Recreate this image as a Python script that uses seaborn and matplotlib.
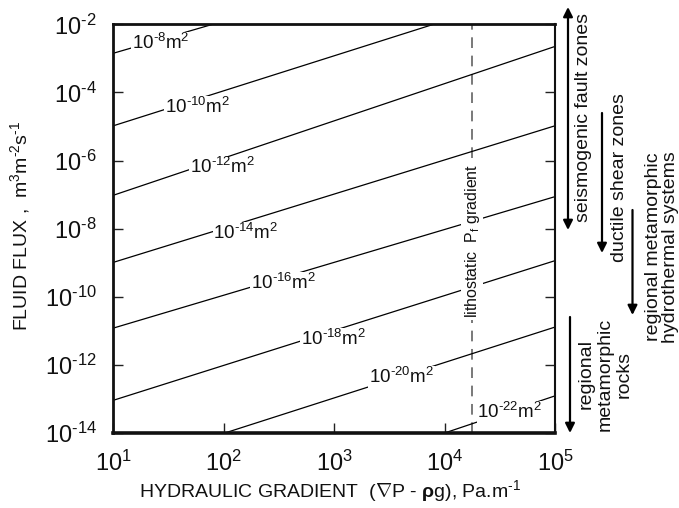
import numpy as np
import pandas as pd
import matplotlib
matplotlib.use("Agg")
import matplotlib.pyplot as plt
import seaborn as sns

# ---------------- data (log10 units) ----------------
perm_exp = [-8, -10, -12, -14, -16, -18, -20, -22]          # permeability exponents (m^2)
line_x0 = [1.0, 1.0, 1.0, 1.0, 1.0, 1.0, 2.01, 4.0]          # log10 gradient, start
line_y0 = [-2.85, -4.98, -7.02, -8.99, -10.92, -13.04, -14.0, -14.0]  # log10 flux, start
line_x1 = [1.9, 3.9, 5.0, 5.0, 5.0, 5.0, 5.0, 5.0]            # log10 gradient, end
line_y1 = [-2.0, -2.0, -2.65, -4.98, -7.06, -8.94, -10.89, -12.91]   # log10 flux, end
label_x = [1.43, 1.76, 1.99, 2.2, 2.54, 2.99, 3.61, 4.59]     # label centres (log10 gradient)
label_y = [-2.55, -4.42, -6.2, -8.12, -9.59, -11.24, -12.35, -13.39]  # label centres (log10 flux)
litho_grad_exp = 4.25                                        # lithostatic Pf gradient (log10)
litho_label_y = -8.37
x_tick_exp = [1, 2, 3, 4, 5]
y_tick_exp = [-2, -4, -6, -8, -10, -12, -14]

rows = []
for e, a, b, c, d in zip(perm_exp, line_x0, line_y0, line_x1, line_y1):
    rows.append({"perm": e, "grad": 10.0 ** a, "flux": 10.0 ** b})
    rows.append({"perm": e, "grad": 10.0 ** c, "flux": 10.0 ** d})
df = pd.DataFrame(rows)

# ---------------- style ----------------
sns.set_style("white")
plt.rcParams.update({
    "font.family": ["Liberation Sans", "DejaVu Sans"],
    "mathtext.fontset": "custom",
    "mathtext.rm": "Liberation Sans",
    "mathtext.it": "Liberation Sans:italic",
    "mathtext.bf": "Liberation Sans:bold",
    "mathtext.sf": "Liberation Sans",
    "text.color": "#111111",
})

HY = "\u2010"  # short hyphen used for the exponents in the original


def pow10(e):
    s = str(e).replace("-", HY)
    return r"$\mathregular{10^{%s}}$" % s


W, H = 679, 508
fig = plt.figure(figsize=(W / 100, H / 100), dpi=100)
ax = fig.add_axes([113.3 / W, 1 - 433 / H, (555 - 113.3) / W, (433 - 24.3) / H])
ax.set_xscale("log")
ax.set_yscale("log")

sns.lineplot(data=df, x="grad", y="flux", units="perm", estimator=None,
             color="black", lw=0.9, ax=ax, legend=False, zorder=2)

ax.set_xlim(10.0 ** x_tick_exp[0], 10.0 ** x_tick_exp[-1])
ax.set_ylim(10.0 ** y_tick_exp[-1], 10.0 ** y_tick_exp[0])
ax.minorticks_off()
ax.set_xticks([10.0 ** e for e in x_tick_exp])
ax.set_xticklabels([pow10(e) for e in x_tick_exp])
ax.set_yticks([10.0 ** e for e in y_tick_exp])
ax.set_yticklabels([pow10(e) for e in y_tick_exp])
ax.minorticks_off()
ax.set_xlabel("")
ax.set_ylabel("")

ax.tick_params(axis="both", direction="in", length=7, width=1.0, colors="#222222",
               labelsize=17, labelcolor="#111111")
ax.tick_params(axis="y", left=True, right=True, pad=12)
ax.tick_params(axis="x", bottom=True, top=False, pad=13)

for side, lw in {"top": 2.0, "left": 2.0, "bottom": 2.6, "right": 1.5}.items():
    ax.spines[side].set_visible(True)
    ax.spines[side].set_linewidth(lw)
    ax.spines[side].set_color("#111111")

# permeability labels
for e, lx, ly in zip(perm_exp, label_x, label_y):
    s = str(e).replace("-", HY)
    ax.text(10.0 ** lx, 10.0 ** ly, r"$\mathregular{10^{%s}m^{2}}$" % s,
            ha="center", va="center", fontsize=13.5, zorder=4,
            bbox=dict(fc="white", ec="none", pad=0.5))

# lithostatic gradient
ax.axvline(10.0 ** litho_grad_exp, color="#555555", lw=1.1, dashes=(7, 5), zorder=1)
ax.text(10.0 ** litho_grad_exp, 10.0 ** litho_label_y, r"lithostatic  P$_\mathregular{f}$ gradient",
        rotation=90, ha="center", va="center", fontsize=11.5, zorder=5,
        bbox=dict(fc="white", ec="none", pad=1.0))

# axis labels
fig.text(330 / W, 1 - 491 / H,
         r"HYDRAULIC GRADIENT  ($\nabla$P - $\mathbf{\rho}$g), Pa.m$^{\mathregular{%s1}}$" % HY,
         ha="center", va="center", fontsize=14)
fig.text(20 / W, 1 - 226 / H,
         r"FLUID FLUX ,  m$^\mathregular{3}$m$^\mathregular{%s2}$s$^\mathregular{%s1}$" % (HY, HY),
         rotation=90, ha="center", va="center", fontsize=14)

# right-hand annotations (figure pixel coords, y from top)
def fp(x, y):
    return (x, H - y)

arrow_kw = dict(color="black", lw=1.6, shrinkA=0, shrinkB=0, mutation_scale=14)
ax.annotate("", xy=fp(568, 7), xytext=fp(568, 230), xycoords="figure pixels",
            textcoords="figure pixels",
            arrowprops=dict(arrowstyle="<|-|>", **arrow_kw), annotation_clip=False)
ax.annotate("", xy=fp(602, 253), xytext=fp(602, 113), xycoords="figure pixels",
            textcoords="figure pixels",
            arrowprops=dict(arrowstyle="-|>", **arrow_kw), annotation_clip=False)
ax.annotate("", xy=fp(632.5, 315), xytext=fp(632.5, 210), xycoords="figure pixels",
            textcoords="figure pixels",
            arrowprops=dict(arrowstyle="-|>", **arrow_kw), annotation_clip=False)
ax.annotate("", xy=fp(570, 433), xytext=fp(570, 317), xycoords="figure pixels",
            textcoords="figure pixels",
            arrowprops=dict(arrowstyle="-|>", **arrow_kw), annotation_clip=False)

fs_ann = 14
fig.text(583 / W, 1 - 118 / H, "seismogenic fault zones", rotation=90,
         ha="center", va="center", fontsize=fs_ann)
fig.text(620 / W, 1 - 178 / H, "ductile shear zones", rotation=90,
         ha="center", va="center", fontsize=fs_ann)
fig.text(662 / W, 1 - 247 / H, "regional metamorphic\nhydrothermal systems", rotation=90,
         ha="center", va="center", fontsize=fs_ann, linespacing=0.95)
fig.text(605.5 / W, 1 - 374 / H, "regional\nmetamorphic\nrocks", rotation=90,
         ha="center", va="center", fontsize=fs_ann, linespacing=1.15, multialignment="center")

fig.savefig("out.png", dpi=100, facecolor="white")
